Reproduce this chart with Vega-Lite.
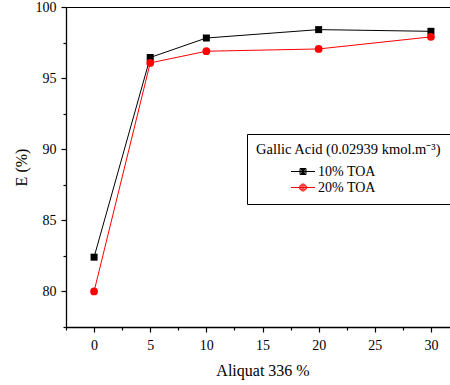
{
  "$schema": "https://vega.github.io/schema/vega-lite/v6.json",
  "autosize": "none",
  "width": 393,
  "height": 320,
  "padding": {"left": 66, "top": 7, "right": 0, "bottom": 58},
  "background": "white",
  "config": {
    "font": "Liberation Serif",
    "view": {"stroke": "black", "strokeWidth": 1},
    "axis": {
      "domainColor": "black", "domainWidth": 1.3, "tickColor": "black", "tickWidth": 1.2,
      "labelColor": "black", "labelFontSize": 14, "labelFont": "Liberation Serif",
      "titleColor": "black", "titleFontSize": 16, "titleFontWeight": "normal", "titleFont": "Liberation Serif",
      "grid": false, "labelOverlap": false, "labelFlush": false, "labelBound": false
    }
  },
  "data": {"values": [
    {"aliquat": 0, "E": 82.41, "series": "10% TOA"},
    {"aliquat": 5, "E": 96.45, "series": "10% TOA"},
    {"aliquat": 10, "E": 97.82, "series": "10% TOA"},
    {"aliquat": 20, "E": 98.41, "series": "10% TOA"},
    {"aliquat": 30, "E": 98.29, "series": "10% TOA"},
    {"aliquat": 0, "E": 80.0, "series": "20% TOA"},
    {"aliquat": 5, "E": 96.07, "series": "20% TOA"},
    {"aliquat": 10, "E": 96.89, "series": "20% TOA"},
    {"aliquat": 20, "E": 97.05, "series": "20% TOA"},
    {"aliquat": 30, "E": 97.9, "series": "20% TOA"}
  ]},
  "resolve": {"legend": {"color": "independent", "shape": "independent", "size": "independent"}},
  "encoding": {
    "x": {
      "field": "aliquat", "type": "quantitative",
      "scale": {"domain": [-2.5, 32.5], "nice": false, "zero": false},
      "axis": {
        "title": "Aliquat 336 %",
        "values": [-2.5, 0, 2.5, 5, 7.5, 10, 12.5, 15, 17.5, 20, 22.5, 25, 27.5, 30, 32.5],
        "labelExpr": "datum.value % 5 === 0 ? format(datum.value, 'd') : ''",
        "tickSize": {"condition": {"test": "datum.value % 5 === 0", "value": 5}, "value": 3},
        "labelPadding": 6,
        "titlePadding": 10
      }
    },
    "y": {
      "field": "E", "type": "quantitative",
      "scale": {"domain": [77.5, 100], "nice": false, "zero": false},
      "axis": {
        "title": "E (%)",
        "values": [77.5, 80, 82.5, 85, 87.5, 90, 92.5, 95, 97.5, 100],
        "labelExpr": "datum.value % 5 === 0 ? format(datum.value, 'd') : ''",
        "tickSize": {"condition": {"test": "datum.value % 5 === 0", "value": 5}, "value": 3},
        "labelPadding": 5,
        "titlePadding": 6
      }
    }
  },
  "layer": [
    {
      "mark": {"type": "line", "strokeWidth": 1},
      "encoding": {
        "color": {
          "field": "series", "type": "nominal",
          "scale": {"domain": ["10% TOA", "20% TOA"], "range": ["black", "red"]},
          "legend": {
            "title": "Gallic Acid (0.02939 kmol.m⁻³)",
            "orient": "none", "legendX": 181, "legendY": 127,
            "padding": 9, "strokeColor": "black", "fillColor": "white",
            "titleFontSize": 14.5, "titleFontWeight": "normal", "titleColor": "black", "titleFont": "Liberation Serif",
            "titleLimit": 400,
            "labelFontSize": 14, "labelColor": "black", "labelFont": "Liberation Serif",
            "symbolSize": 144, "rowPadding": 2, "titlePadding": 7,
            "symbolOffset": 40, "labelOffset": 8,
            "symbolStrokeWidth": 1,
            "symbolType": {"expr": "datum.value === '10% TOA' ? 'M-2,0H2M-0.5,-0.5H0.5V0.5H-0.5ZM-0.333,-0.333H0.333V0.333H-0.333ZM-0.167,-0.167H0.167V0.167H-0.167Z' : 'M-2,0H2M0.583,0A0.583,0.583 0 1 1 -0.583,0A0.583,0.583 0 1 1 0.583,0ZM0.417,0A0.417,0.417 0 1 1 -0.417,0A0.417,0.417 0 1 1 0.417,0ZM0.25,0A0.25,0.25 0 1 1 -0.25,0A0.25,0.25 0 1 1 0.25,0ZM0.083,0A0.083,0.083 0 1 1 -0.083,0A0.083,0.083 0 1 1 0.083,0Z'"},
            "symbolFillColor": {"expr": "datum.value === '10% TOA' ? 'black' : 'red'"},
            "symbolStrokeColor": {"expr": "datum.value === '10% TOA' ? 'black' : 'red'"},
            "encode": {
              "symbols": {
                "update": {
                  "fill": {"value": {"expr": "datum.value === '10% TOA' ? 'black' : 'red'"}},
                  "stroke": {"value": {"expr": "datum.value === '10% TOA' ? 'black' : 'red'"}},
                  "strokeWidth": {"value": 1}
                }
              }
            }
          }
        }
      }
    },
    {
      "mark": {"type": "point", "filled": true, "opacity": 1},
      "encoding": {
        "color": {
          "field": "series", "type": "nominal",
          "scale": {"domain": ["10% TOA", "20% TOA"], "range": ["black", "red"]},
          "legend": null
        },
        "shape": {
          "field": "series", "type": "nominal",
          "scale": {"domain": ["10% TOA", "20% TOA"], "range": ["square", "circle"]},
          "legend": null
        },
        "size": {
          "field": "series", "type": "nominal",
          "scale": {"domain": ["10% TOA", "20% TOA"], "range": [49, 60]},
          "legend": null
        }
      }
    }
  ]
}
